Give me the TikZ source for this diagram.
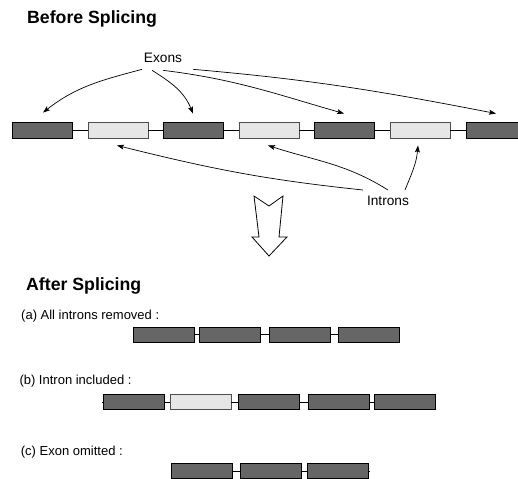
\documentclass[tikz,border=0pt]{standalone}
\usepackage{fontspec}
\setmainfont{Liberation Sans}
\usetikzlibrary{arrows.meta}

\definecolor{exonfill}{HTML}{666666}
\definecolor{intronfill}{HTML}{E6E6E6}
\definecolor{intronedge}{HTML}{4D4D4D}

\tikzset{
  exonbox/.style={draw=black, fill=exonfill, line width=0.9pt,
    minimum width=60pt, minimum height=16pt, inner sep=0pt},
  intronbox/.style={draw=intronedge, fill=intronfill, line width=0.9pt,
    minimum width=60pt, minimum height=16pt, inner sep=0pt},
  smallexon/.style={exonbox, minimum width=61pt, minimum height=15pt},
  smallintron/.style={intronbox, minimum width=61pt, minimum height=15pt},
  link/.style={draw=black, line width=0.8pt},
  pointer/.style={draw=black, line width=0.7pt,
    -{Stealth[length=7pt,width=5pt,inset=1.5pt]}},
  heading/.style={font=\fontsize{17.7}{20}\selectfont\bfseries, inner sep=0pt, anchor=base west},
  caption/.style={font=\fontsize{13}{15}\selectfont, inner sep=0pt, anchor=base west},
  tag/.style={font=\fontsize{13.7}{16}\selectfont, inner sep=1pt, anchor=base},
}

\begin{document}
\begin{tikzpicture}[x=1pt, y=1pt]
\clip (0,0) rectangle (518,478);
\fill[white] (0,0) rectangle (518,478);

% ---------- before splicing ----------
\node[heading] (before) at (27,454) {Before Splicing};

\node[exonbox]   (e1) at (42,348)    {};
\node[intronbox] (i1) at (118,348)   {};
\node[exonbox]   (e2) at (193.5,348) {};
\node[intronbox] (i2) at (269,348)   {};
\node[exonbox]   (e3) at (344.5,348) {};
\node[intronbox] (i3) at (420,348)   {};
\node[exonbox]   (e4) at (496,348)   {};

\draw[link] (e1.east) -- (i1.west);
\draw[link] (i1.east) -- (e2.west);
\draw[link] (e2.east) -- (i2.west);
\draw[link] (i2.east) -- (e3.west);
\draw[link] (e3.east) -- (i3.west);
\draw[link] (i3.east) -- (e4.west);

\node[tag] (exons) at (163,415) {Exons};
\draw[pointer] ([shift={(-21,-5)}]exons.south) to[out=195, in=38]  ([shift={(1,9)}]e1.north);
\draw[pointer] ([shift={(-11,-6)}]exons.south) to[out=-32, in=112] ([shift={(-0.5,8)}]e2.north);
\draw[pointer] ([shift={(0,-6)}]exons.south)   to[out=-7, in=164]  ([shift={(-0.5,8)}]e3.north);
\draw[pointer] ([shift={(30,-5)}]exons.south)  to[out=-5, in=169]  ([shift={(0,8)}]e4.north);

\node[tag] (introns) at (388,272) {Introns};
\draw[pointer] ([shift={(-25,16)}]introns.base) to[out=174, in=-14] ([shift={(-1,-7)}]i1.south);
\draw[pointer] ([shift={(0,16)}]introns.base)   to[out=148, in=-18] ([shift={(-1,-7)}]i2.south);
\draw[pointer] ([shift={(17,16)}]introns.base)  to[out=68, in=-95]  ([shift={(-2,-7)}]i3.south);

% hollow down arrow
\draw[line width=0.8pt, line join=miter, fill=white]
  (254,282) -- (269,272) -- (283,282) -- (279,241) -- (287,241)
  -- (269,222) -- (252,241) -- (259,241) -- cycle;

% ---------- after splicing ----------
\node[heading] (after) at (26,187.5) {After Splicing};

% (a)
\node[caption] (capa) at (21,158.7) {(a) All introns removed :};
\node[smallexon] (a1) at (163.5,143.5) {};
\node[smallexon] (a2) at (230,143.5)   {};
\node[smallexon] (a3) at (299.5,143.5) {};
\node[smallexon] (a4) at (368.5,143.5) {};
\draw[link] (a1.east) -- (a2.west);
\draw[link] (a2.east) -- (a3.west);
\draw[link] (a3.east) -- (a4.west);

% (b)
\node[caption] (capb) at (19.3,93) {(b) Intron included :};
\node[smallexon]   (b1) at (133.5,76) {};
\node[smallintron] (b2) at (200.5,76) {};
\node[smallexon]   (b3) at (269,76)   {};
\node[smallexon]   (b4) at (339,76)   {};
\node[smallexon]   (b5) at (405,76)   {};
\coordinate (bstub) at (101.5,76);
\draw[link] (bstub) -- (b1.west);
\draw[link] (b1.east) -- (b2.west);
\draw[link] (b2.east) -- (b3.west);
\draw[link] (b3.east) -- (b4.west);
\draw[link] (b4.east) -- (b5.west);

% (c)
\node[caption] (capc) at (20.7,23) {(c) Exon omitted :};
\node[smallexon] (c1) at (201.5,7) {};
\node[smallexon] (c2) at (271,7)   {};
\node[smallexon] (c3) at (337.5,7) {};
\coordinate (cstub) at (369.5,7);
\draw[link] (c1.east) -- (c2.west);
\draw[link] (c2.east) -- (c3.west);
\draw[link] (c3.east) -- (cstub);
\end{tikzpicture}
\end{document}
